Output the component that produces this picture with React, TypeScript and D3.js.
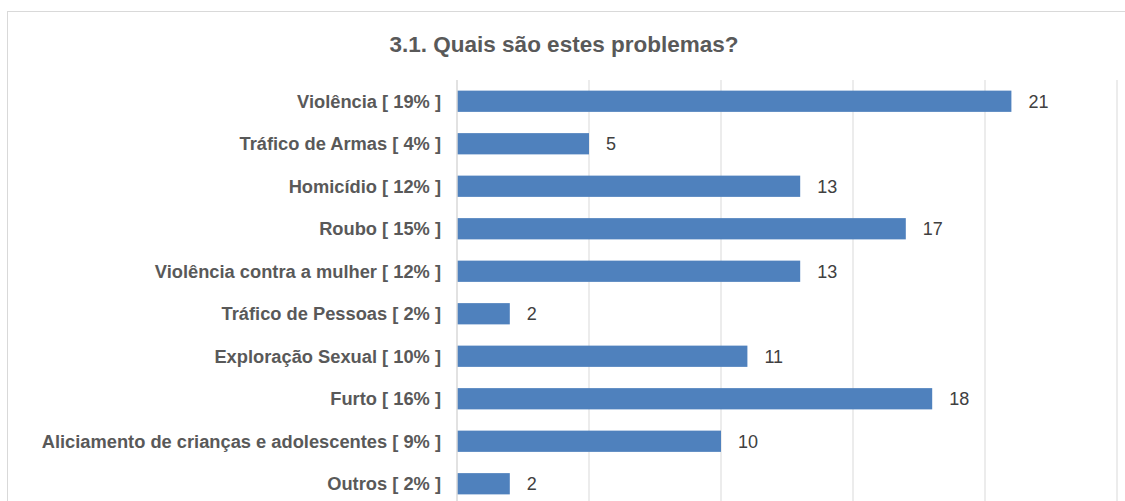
import React from "react";
import * as d3 from "d3";

const categories = [
  "Violência [ 19% ]",
  "Tráfico de Armas [ 4% ]",
  "Homicídio [ 12% ]",
  "Roubo [ 15% ]",
  "Violência contra a mulher [ 12% ]",
  "Tráfico de Pessoas [ 2% ]",
  "Exploração Sexual [ 10% ]",
  "Furto [ 16% ]",
  "Aliciamento de crianças e adolescentes [ 9% ]",
  "Outros [ 2% ]",
];
const values = [21, 5, 13, 17, 13, 2, 11, 18, 10, 2];
const xTicks = [0, 5, 10, 15, 20, 25];
const title = "3.1. Quais são estes problemas?";

export default function App() {
  const W = 1125, H = 501;
  const x0 = 457, x1 = 1117;
  const y0 = 80, y1 = 505;
  const x = d3.scaleLinear().domain([0, 25]).range([x0, x1]);
  const y = d3.scaleBand<string>().domain(categories).range([y0, y1]).paddingInner(0.5).paddingOuter(0.25);
  const font = "'Liberation Sans', Arial, sans-serif";
  return (
    <svg width={W} height={H} style={{ position: "absolute", left: 0, top: 0 }} fontFamily={font}>
      <rect x={0} y={0} width={W} height={H} fill="#fff" />
      <rect x={7.5} y={11.5} width={1130} height={520} fill="none" stroke="#d9d9d9" strokeWidth={1} />
      <text x={564} y={52} textAnchor="middle" fontSize={22.5} fontWeight="bold" fill="#595959">{title}</text>
      {xTicks.slice(1).map((t) => (
        <line key={t} x1={x(t)} x2={x(t)} y1={y0} y2={y1} stroke="#d9d9d9" strokeWidth={1} />
      ))}
      {categories.map((c, i) => (
        <g key={c}>
          <rect x={x(0)} y={y(c)!} width={x(values[i]) - x(0)} height={y.bandwidth()} fill="#4f81bd" />
          <text x={x(values[i]) + 17} y={y(c)! + y.bandwidth() / 2} dy="0.35em" fontSize={18} fill="#404040">{values[i]}</text>
          <text x={441} y={y(c)! + y.bandwidth() / 2} dy="0.35em" textAnchor="end" fontSize={18.3} fontWeight="bold" fill="#595959">{c}</text>
        </g>
      ))}
      <line x1={x(0)} x2={x(0)} y1={y0} y2={y1} stroke="#d9d9d9" strokeWidth={1.5} />
    </svg>
  );
}
